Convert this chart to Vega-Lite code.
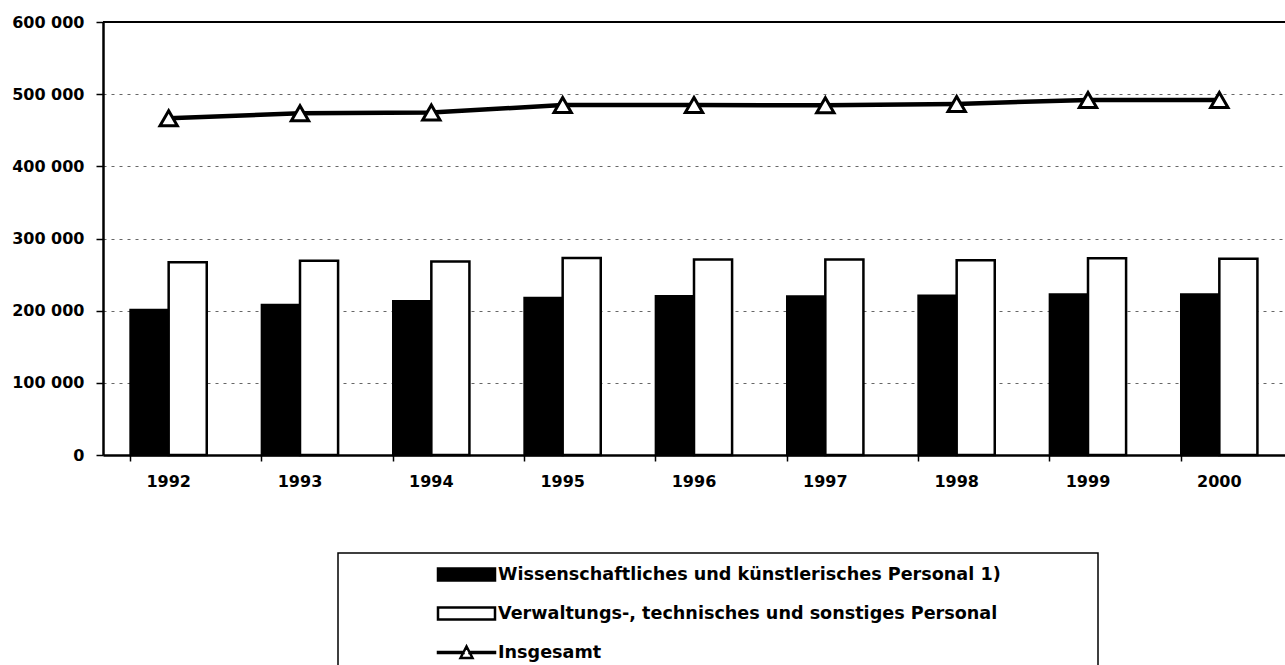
{
  "$schema": "https://vega.github.io/schema/vega-lite/v6.json",
  "autosize": {"type": "none"},
  "padding": {"left": 103, "top": 22, "right": 0, "bottom": 210},
  "width": 1182,
  "height": 433,
  "background": "white",
  "config": {
    "view": {"stroke": null},
    "font": "DejaVu Sans"
  },
  "data": {
    "values": [
      {"year": "1992", "series": "Wissenschaftliches und künstlerisches Personal 1)", "value": 201000},
      {"year": "1992", "series": "Verwaltungs-, technisches und sonstiges Personal", "value": 267000},
      {"year": "1992", "series": "Insgesamt", "value": 466500},
      {"year": "1993", "series": "Wissenschaftliches und künstlerisches Personal 1)", "value": 208000},
      {"year": "1993", "series": "Verwaltungs-, technisches und sonstiges Personal", "value": 269000},
      {"year": "1993", "series": "Insgesamt", "value": 473500},
      {"year": "1994", "series": "Wissenschaftliches und künstlerisches Personal 1)", "value": 213000},
      {"year": "1994", "series": "Verwaltungs-, technisches und sonstiges Personal", "value": 268000},
      {"year": "1994", "series": "Insgesamt", "value": 474500},
      {"year": "1995", "series": "Wissenschaftliches und künstlerisches Personal 1)", "value": 217500},
      {"year": "1995", "series": "Verwaltungs-, technisches und sonstiges Personal", "value": 273000},
      {"year": "1995", "series": "Insgesamt", "value": 485000},
      {"year": "1996", "series": "Wissenschaftliches und künstlerisches Personal 1)", "value": 220000},
      {"year": "1996", "series": "Verwaltungs-, technisches und sonstiges Personal", "value": 271000},
      {"year": "1996", "series": "Insgesamt", "value": 485000},
      {"year": "1997", "series": "Wissenschaftliches und künstlerisches Personal 1)", "value": 219500},
      {"year": "1997", "series": "Verwaltungs-, technisches und sonstiges Personal", "value": 271000},
      {"year": "1997", "series": "Insgesamt", "value": 484500},
      {"year": "1998", "series": "Wissenschaftliches und künstlerisches Personal 1)", "value": 220500},
      {"year": "1998", "series": "Verwaltungs-, technisches und sonstiges Personal", "value": 270000},
      {"year": "1998", "series": "Insgesamt", "value": 486500},
      {"year": "1999", "series": "Wissenschaftliches und künstlerisches Personal 1)", "value": 222500},
      {"year": "1999", "series": "Verwaltungs-, technisches und sonstiges Personal", "value": 272500},
      {"year": "1999", "series": "Insgesamt", "value": 492000},
      {"year": "2000", "series": "Wissenschaftliches und künstlerisches Personal 1)", "value": 222500},
      {"year": "2000", "series": "Verwaltungs-, technisches und sonstiges Personal", "value": 272000},
      {"year": "2000", "series": "Insgesamt", "value": 492000}
    ]
  },
  "encoding": {
    "x": {
      "field": "year",
      "type": "nominal",
      "scale": {"paddingInner": 0.42, "paddingOuter": 0.21},
      "axis": {
        "title": null,
        "labelAngle": 0,
        "labelFont": "DejaVu Sans",
        "labelFontSize": 16,
        "labelFontWeight": "bold",
        "labelColor": "black",
        "labelPadding": 12,
        "domainColor": "black",
        "domainWidth": 2.5,
        "tickColor": "black",
        "tickWidth": 1.5,
        "tickSize": 6,
        "bandPosition": 0,
        "grid": false
      }
    },
    "y": {
      "field": "value",
      "type": "quantitative",
      "scale": {"domain": [0, 600000], "nice": false, "zero": true},
      "axis": {
        "title": null,
        "values": [0, 100000, 200000, 300000, 400000, 500000, 600000],
        "labelExpr": "replace(format(datum.value, ','), ',', ' ')",
        "labelFont": "DejaVu Sans",
        "labelFontSize": 16,
        "labelFontWeight": "bold",
        "labelColor": "black",
        "labelPadding": 12,
        "domainColor": "black",
        "domainWidth": 2.5,
        "tickColor": "black",
        "tickWidth": 1.5,
        "tickSize": 7,
        "grid": true,
        "gridColor": "#666666",
        "gridDash": [3, 5],
        "gridWidth": 1
      }
    }
  },
  "layer": [
    {
      "mark": {"type": "rule", "color": "black", "strokeWidth": 2},
      "encoding": {"y": {"datum": 600000}, "x": null}
    },
    {
      "transform": [{"filter": "datum.series !== 'Insgesamt'"}],
      "mark": {"type": "bar", "stroke": "black", "strokeWidth": 2.5},
      "encoding": {
        "xOffset": {
          "field": "series",
          "type": "nominal",
          "sort": ["Wissenschaftliches und künstlerisches Personal 1)", "Verwaltungs-, technisches und sonstiges Personal"],
          "scale": {"paddingInner": 0, "paddingOuter": 0}
        },
        "fill": {
          "field": "series",
          "type": "nominal",
          "scale": {
            "domain": ["Wissenschaftliches und künstlerisches Personal 1)", "Verwaltungs-, technisches und sonstiges Personal", "Insgesamt"],
            "range": ["black", "white", "white"]
          },
          "legend": {
            "orient": "none",
            "legendX": 235,
            "legendY": 531,
            "title": null,
            "direction": "vertical",
            "padding": 10,
            "fillColor": "white",
            "strokeColor": "black",
            "symbolSize": 400,
            "symbolStrokeWidth": 2.5,
            "symbolStrokeColor": "black",
            "symbolOffset": 107,
            "labelOffset": 20,
            "rowPadding": 16,
            "labelFont": "DejaVu Sans",
            "labelFontSize": 17.6,
            "labelFontWeight": "bold",
            "labelColor": "black",
            "labelLimit": 0,
            "encode": {
              "legend": {"update": {"strokeWidth": {"value": 1.5}}},
              "symbols": {
                "update": {
                  "shape": {"signal": "datum.value === 'Insgesamt' ? 'M-2.85,-0.05H-0.3V0.05H-2.85Z M0.3,-0.05H2.85V0.05H0.3Z M-0.6,0.55L0,-0.6L0.6,0.55Z' : (datum.value === 'Verwaltungs-, technisches und sonstiges Personal' ? 'M-2.85,-0.6H2.85V0.6H-2.85Z' : 'M-2.85,-0.6H2.85V0.6H-2.85Z M61.6,0')"},
                  "stroke": {"value": "black"},
                  "strokeWidth": {"value": 2.5},
                  "opacity": {"value": 1}
                }
              }
            }
          }
        }
      }
    },
    {
      "transform": [{"filter": "datum.series === 'Insgesamt'"}],
      "mark": {"type": "line", "color": "black", "strokeWidth": 4.5},
      "encoding": {}
    },
    {
      "transform": [{"filter": "datum.series === 'Insgesamt'"}],
      "mark": {"type": "point", "shape": "triangle-up", "filled": true, "fill": "white", "stroke": "black", "strokeWidth": 3, "size": 300, "opacity": 1},
      "encoding": {}
    }
  ]
}
